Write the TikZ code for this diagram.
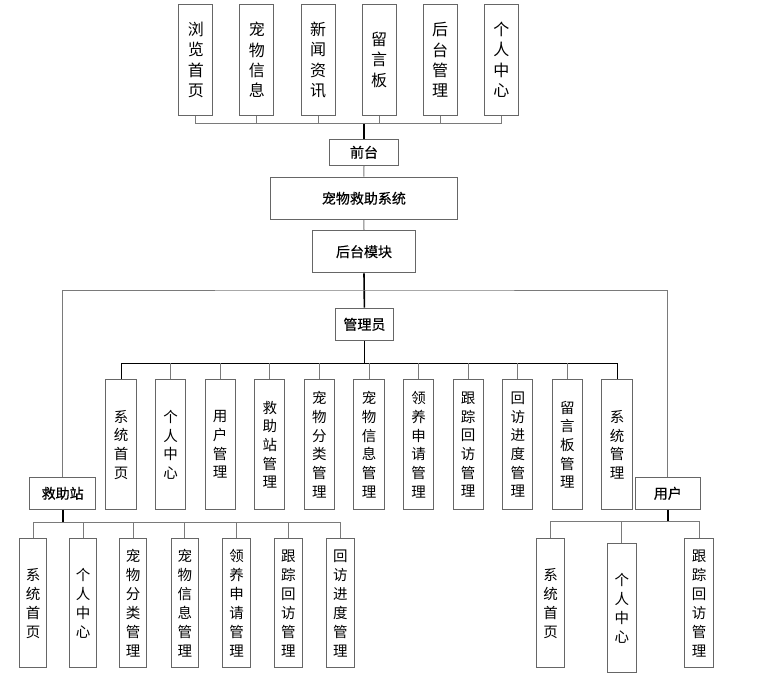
\documentclass[tikz,border=0pt]{standalone}
\usepackage{fontspec}
\setmainfont{Noto Sans CJK SC}
\newfontfamily\medfont[FakeBold=0.4]{Noto Sans CJK SC}
\usetikzlibrary{positioning}
\definecolor{boxgray}{HTML}{666666}
\definecolor{linegray}{HTML}{7A7A7A}

\begin{document}
\begin{tikzpicture}[x=1pt,y=-1pt,
	box/.style={draw=boxgray,line width=1pt,fill=white,inner sep=0pt,align=center},
	hbox/.style={box,font=\medfont\fontsize{14pt}{16pt}\selectfont},
	vbox/.style={box,font=\fontsize{16pt}{20.3pt}\selectfont},
	topbox/.style={vbox,minimum width=34pt,minimum height=110.7pt},
	admbox/.style={vbox,font=\fontsize{14.5pt}{18.7pt}\selectfont,minimum width=30.3pt,minimum height=129.7pt},
	subbox/.style={vbox,font=\fontsize{14.5pt}{19pt}\selectfont,minimum width=27.6pt,minimum height=129pt},
	link/.style={draw=linegray,line width=1pt},
	trunk/.style={draw=black,line width=1.6pt}]
	\useasboundingbox (0,0) rectangle (769,682);
	% front end
	\node[topbox] (llsy) at (195.8,59.9) {浏\\览\\首\\页};
	\node[topbox] (cwxx) [right = 26.1pt of llsy] {宠\\物\\信\\息};
	\node[topbox] (xwzx) [right = 26.1pt of cwxx] {新\\闻\\资\\讯};
	\node[topbox] (lyb)  [right = 26.1pt of xwzx] {留\\言\\板};
	\node[topbox] (htgl) [right = 26.1pt of lyb] {后\\台\\管\\理};
	\node[topbox] (grzx) [right = 26.1pt of htgl] {个\\人\\中\\心};
	\node[hbox,minimum width=69pt,minimum height=26.3pt] (qt) at (364,152.3) {前台};
	\node[hbox,minimum width=186.7pt,minimum height=42.3pt] (xt) at (363.9,198.3) {宠物救助系统};
	\node[hbox,minimum width=103pt,minimum height=42.3pt] (ht) at (364,251.7) {后台模块};
	\coordinate (topbus) at (364,124);
	% back end
	\node[hbox,minimum width=58.6pt,minimum height=32.3pt] (gly) at (364.4,324.3) {管理员};
	\node[hbox,minimum width=65.7pt,minimum height=32.3pt] (jzz) at (62.7,493.3) {救助站};
	\node[hbox,minimum width=65.3pt,minimum height=32.3pt] (yh) at (667.8,493.3) {用户};
	\coordinate (bigbus) at (364.4,290);
	\coordinate (admbus) at (364.4,363.3);
	\coordinate (jzzbus) at (62.7,522.3);
	\coordinate (yhbus) at (667.8,521.7);
	% admin modules
	\node[admbox] (a1) at (121,444.7) {系\\统\\首\\页};
	\node[admbox] (a2)  [right = 18.3pt of a1] {个\\人\\中\\心};
	\node[admbox] (a3)  [right = 18.3pt of a2] {用\\户\\管\\理};
	\node[admbox] (a4)  [right = 18.3pt of a3] {救\\助\\站\\管\\理};
	\node[admbox] (a5)  [right = 18.3pt of a4] {宠\\物\\分\\类\\管\\理};
	\node[admbox] (a6)  [right = 18.3pt of a5] {宠\\物\\信\\息\\管\\理};
	\node[admbox] (a7)  [right = 18.3pt of a6] {领\\养\\申\\请\\管\\理};
	\node[admbox] (a8)  [right = 18.3pt of a7] {跟\\踪\\回\\访\\管\\理};
	\node[admbox] (a9)  [right = 18.3pt of a8] {回\\访\\进\\度\\管\\理};
	\node[admbox] (a10) [right = 18.3pt of a9] {留\\言\\板\\管\\理};
	\node[admbox] (a11) [right = 18.3pt of a10] {系\\统\\管\\理};
	% rescue station modules
	\node[subbox] (j1) at (33,603.3) {系\\统\\首\\页};
	\node[subbox] (j2) [right = 21.4pt of j1] {个\\人\\中\\心};
	\node[subbox] (j3) [right = 21.4pt of j2] {宠\\物\\分\\类\\管\\理};
	\node[subbox] (j4) [right = 23.3pt of j3] {宠\\物\\信\\息\\管\\理};
	\node[subbox] (j5) [right = 23pt of j4] {领\\养\\申\\请\\管\\理};
	\node[subbox] (j6) [right = 23.3pt of j5] {跟\\踪\\回\\访\\管\\理};
	\node[subbox] (j7) [right = 23.3pt of j6] {回\\访\\进\\度\\管\\理};
	% user modules
	\node[subbox,minimum width=28.3pt] (u1) at (550.7,603.3) {系\\统\\首\\页};
	\node[subbox,minimum width=28.7pt] (u2) at (621.8,608.3) {个\\人\\中\\心};
	\node[subbox,minimum width=28.7pt] (u3) at (699.2,603.3) {跟\\踪\\回\\访\\管\\理};
	% connectors
	\draw[link] (llsy.south) |- (topbus);
	\draw[link] (cwxx.south) |- (topbus);
	\draw[link] (xwzx.south) |- (topbus);
	\draw[link] (lyb.south) |- (topbus);
	\draw[link] (htgl.south) |- (topbus);
	\draw[link] (grzx.south) |- (topbus);
	\draw[trunk] (topbus) -- (qt.north);
	\draw[link] (qt.south) -- (xt.north);
	\draw[link] (xt.south) -- (ht.north);
	\draw[trunk] (ht.south) -- (gly.north);
	\draw[link] (jzz.north) |- (bigbus) -| (yh.north);
	\draw[trunk] (gly.south) -- (admbus);
	\draw[black,line width=0.9pt] (a1.north) |- (admbus) -| (a11.north);
	\foreach \n in {a2,a3,a4,a5,a6,a7,a8,a9,a10}
		\draw[link] (\n.north) -- (\n.north |- admbus);
	\draw[trunk] (jzz.south) -- (jzzbus);
	\draw[link] (j1.north) |- (jzzbus) -| (j7.north);
	\foreach \n in {j2,j3,j4,j5,j6}
		\draw[link] (\n.north) -- (\n.north |- jzzbus);
	\draw[trunk] (yh.south) -- (yhbus);
	\draw[link] (u1.north) |- (yhbus) -| (u3.north);
	\draw[link] (u2.north) -- (u2.north |- yhbus);
\end{tikzpicture}
\end{document}
